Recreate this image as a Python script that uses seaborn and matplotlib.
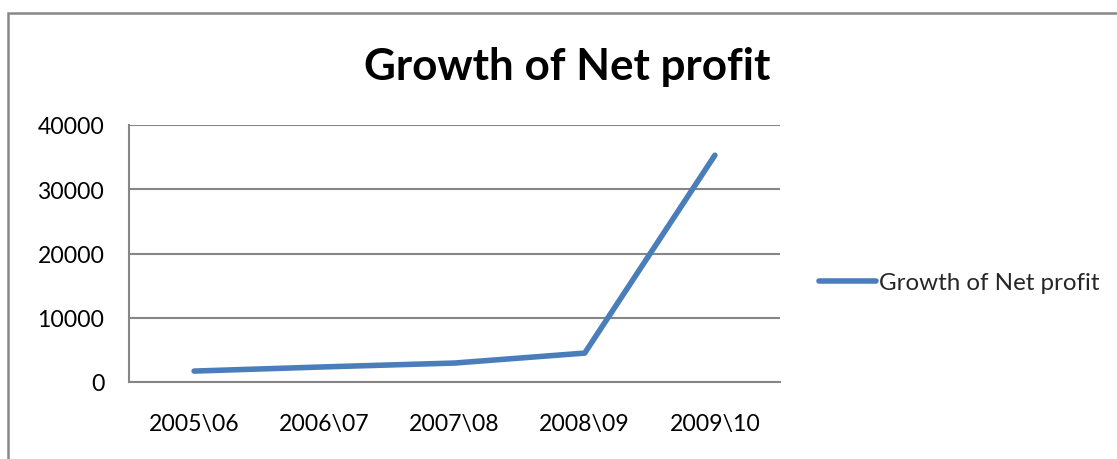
import matplotlib
matplotlib.use("Agg")
import matplotlib.pyplot as plt
import seaborn as sns
import pandas as pd
from matplotlib.patches import Rectangle
from matplotlib.ticker import FixedLocator

years = ["2005\\06", "2006\\07", "2007\\08", "2008\\09", "2009\\10"]
net_profit_growth = [1700, 2350, 2950, 4500, 35300]
series_name = "Growth of Net profit"
y_ticks = [0, 10000, 20000, 30000, 40000]

sns.set_theme(style="white")
plt.rcParams['font.family'] = ['Lato', 'DejaVu Sans']

df = pd.DataFrame({"year": years, "value": net_profit_growth, "series": series_name})
df["pos"] = range(len(years))

W, H = 1117, 460
fig = plt.figure(figsize=(W / 100, H / 100), dpi=100)
ax = fig.add_axes([129 / W, 1 - 383 / H, (780 - 129) / W, (383 - 126) / H])

sns.lineplot(data=df, x="pos", y="value", hue="series", palette=["#4A7EBB"],
             linewidth=4.0, ax=ax, legend=True, solid_capstyle="round")

fs = 16.6
grid_c = "#868686"
ax.set_xlim(-0.5, len(years) - 0.5)
ax.set_ylim(0, 40000)
ax.set_yticks(y_ticks)
ax.set_yticklabels([str(v) for v in y_ticks])
ax.set_xticks(range(len(years)))
ax.set_xticklabels(years)
ax.xaxis.set_minor_locator(FixedLocator([i - 0.5 for i in range(len(years) + 1)]))
ax.tick_params(axis="x", which="major", length=0, pad=22, labelsize=fs, colors="black")
ax.tick_params(axis="x", which="minor", length=5.8, width=1.5, color=grid_c, direction="out")
ax.tick_params(axis="y", which="major", length=5.8, width=1.5, color=grid_c, pad=12,
               labelsize=fs, labelcolor="black")
ax.yaxis.grid(True, color=grid_c, linewidth=1.5)
ax.xaxis.grid(False)
ax.set_axisbelow(True)
for s in ["top", "right"]:
    ax.spines[s].set_visible(False)
for s in ["left", "bottom"]:
    ax.spines[s].set_color(grid_c)
    ax.spines[s].set_linewidth(1.5)
ax.set_xlabel("")
ax.set_ylabel("")

leg = ax.legend(loc="center left", bbox_to_anchor=(819 / W, 1 - 284 / H),
                bbox_transform=fig.transFigure, frameon=False, fontsize=17.4,
                handlelength=2.35, handletextpad=0.15, borderpad=0, borderaxespad=0)
for line in leg.get_lines():
    line.set_linewidth(4.0)

fig.text(567 / W, 1 - 67 / H, "Growth of Net profit", ha="center", va="center",
         fontsize=31.7, fontweight="bold", color="black")

fig.patches.append(Rectangle((8 / W, -0.1), 1.2, 1 - 14 / H + 0.1, transform=fig.transFigure,
                             fill=False, edgecolor="#888888", linewidth=1.8, figure=fig))

fig.savefig("out.png", dpi=100, facecolor="white")
